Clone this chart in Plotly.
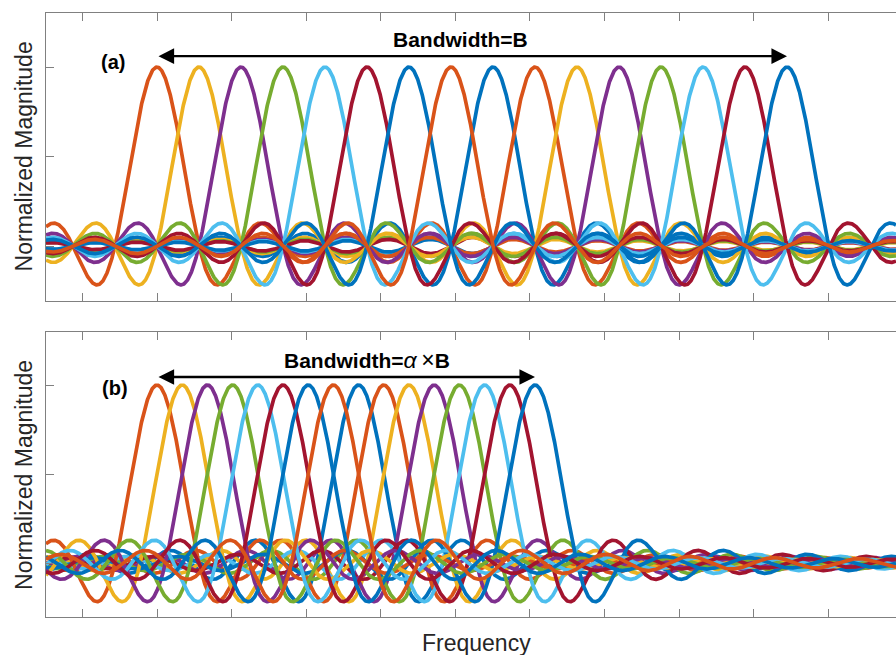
import numpy as np
import plotly.graph_objects as go

# ---- data ----
# subcarrier centre positions, in units of the sinc zero spacing
top_centers = [0, 1, 2, 3, 4, 5, 6, 7, 8, 9, 10, 11, 12, 13, 14, 15]
bottom_centers = [0, 0.6, 1.2, 1.8, 2.4, 3.0, 3.6, 4.2, 4.8, 5.4, 6.0, 6.6, 7.2, 7.8, 8.4, 9.0]
center_colors = ["orange", "yellow", "purple", "green", "cyan", "red", "blue", "orange",
                 "blue", "orange", "yellow", "purple", "green", "cyan", "red", "blue"]
# drawing order (second group first, then first group)
draw_order = [8, 9, 10, 11, 12, 13, 14, 15, 0, 1, 2, 3, 4, 5, 6, 7]
y_ticks = [0, 0.5, 1]
panel_labels = ["(a)", "(b)"]
band_labels = ["<b>Bandwidth=B</b>",
               "<b>Bandwidth=</b><span style='font-size:23px'><i>α</i>\u2009×</span><b>B</b>"]

palette = {"blue": "#0072BD", "orange": "#D95319", "yellow": "#EDB120",
           "purple": "#7E2F8E", "green": "#77AC30", "cyan": "#4DBEEE", "red": "#A2142F"}

x_range = [-2.643, 17.595]
x = np.linspace(x_range[0], x_range[1], 2500)

fig = go.Figure()
for panel, centers in enumerate([top_centers, bottom_centers]):
    xa = "x" if panel == 0 else "x2"
    ya = "y" if panel == 0 else "y2"
    for i in draw_order:
        fig.add_trace(go.Scatter(x=x, y=np.sinc(x - centers[i]), mode="lines",
                                 line=dict(color=palette[center_colors[i]], width=3.7),
                                 xaxis=xa, yaxis=ya, hoverinfo="skip", showlegend=False))

font = "Liberation Sans, Arial, Helvetica, sans-serif"
axcol = "#808080"
xcommon = dict(range=x_range, showline=True, linecolor=axcol, linewidth=1, mirror="ticks",
               ticks="inside", ticklen=8, tickcolor=axcol, tick0=0, dtick=1.776,
               showticklabels=False, showgrid=False, zeroline=False)
ycommon = dict(showline=True, linecolor=axcol, linewidth=1, mirror=False,
               ticks="inside", ticklen=8, tickcolor=axcol, tickvals=y_ticks,
               showticklabels=False, showgrid=False, zeroline=False)
top_range = [-0.307, 1.302]
bot_range = [-0.303, 1.298]

fig.update_layout(
    width=896, height=655, margin=dict(l=46, r=0, t=13, b=38),
    paper_bgcolor="white", plot_bgcolor="white",
    xaxis=dict(anchor="y", domain=[0, 1], **xcommon),
    xaxis2=dict(anchor="y2", domain=[0, 1], **xcommon),
    yaxis=dict(anchor="x", domain=[0.5232, 1], range=top_range, **ycommon),
    yaxis2=dict(anchor="x2", domain=[0, 0.4719], range=bot_range, **ycommon),
    yaxis3=dict(overlaying="y", anchor="x", side="right", range=top_range, tickvals=y_ticks,
                ticks="inside", ticklen=3, tickcolor=axcol, showline=False,
                showticklabels=False, showgrid=False, zeroline=False),
    yaxis4=dict(overlaying="y2", anchor="x2", side="right", range=bot_range, tickvals=y_ticks,
                ticks="inside", ticklen=3, tickcolor=axcol, showline=False,
                showticklabels=False, showgrid=False, zeroline=False),
    showlegend=False,
)

ann = []
# axis titles
for yc in [0.7624, 0.235]:
    ann.append(dict(text="Normalized Magnitude", xref="paper", yref="paper", x=-0.026, y=yc,
                    textangle=-90, showarrow=False, xanchor="center", yanchor="middle",
                    font=dict(family=font, size=23, color="#262626")))
ann.append(dict(text="Frequency", xref="paper", yref="paper", x=0.5059, y=-0.043,
                showarrow=False, xanchor="center", yanchor="middle",
                font=dict(family=font, size=23, color="#262626")))
# panel labels
ann.append(dict(text="<b>" + panel_labels[0] + "</b>", xref="paper", yref="paper", x=0.0788, y=0.9189,
                showarrow=False, xanchor="center", yanchor="middle",
                font=dict(family=font, size=20, color="#000")))
ann.append(dict(text="<b>" + panel_labels[1] + "</b>", xref="paper", yref="paper", x=0.0812, y=0.3791,
                showarrow=False, xanchor="center", yanchor="middle",
                font=dict(family=font, size=20, color="#000")))
# bandwidth labels
ann.append(dict(text=band_labels[0], xref="paper", yref="paper", x=0.488, y=0.956,
                showarrow=False, xanchor="center", yanchor="middle",
                font=dict(family=font, size=21, color="#000")))
ann.append(dict(text=band_labels[1], xref="paper", yref="paper", x=0.378, y=0.4255,
                showarrow=False, xanchor="center", yanchor="middle",
                font=dict(family=font, size=21, color="#000")))
# double arrows spanning the first and last subcarrier centres
for xr, yr, cs, yv in [("x", "y", top_centers, 1.061), ("x2", "y2", bottom_centers, 1.045)]:
    ann.append(dict(text="", xref=xr, yref=yr, axref=xr, ayref=yr,
                    x=cs[-1], y=yv, ax=cs[0], ay=yv, showarrow=True,
                    arrowside="end+start", arrowhead=2, startarrowhead=2,
                    arrowsize=1.3, startarrowsize=1.3, arrowwidth=2.4, arrowcolor="#000",
                    standoff=0, startstandoff=0))
fig.update_layout(annotations=ann)

fig.write_html("out.html", config={"displayModeBar": False})
